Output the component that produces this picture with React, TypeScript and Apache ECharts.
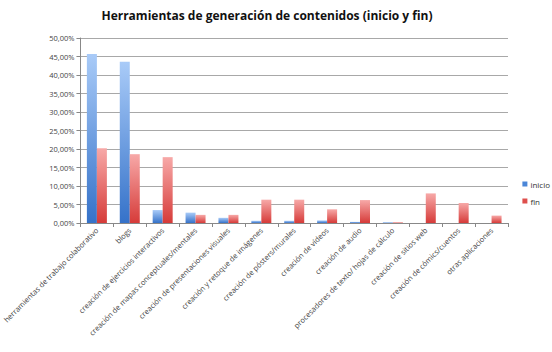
import React, { useEffect, useRef } from "react";
import * as echarts from "echarts";

const categories = [
  "herramientas de trabajo colaborativo",
  "blogs",
  "creación de ejercicios interactivos",
  "creación de mapas conceptuales/mentales",
  "creación de presentaciones visuales",
  "creación y retoque de imágenes",
  "creación de pósters/murales",
  "creación de vídeos",
  "creación de audio",
  "procesadores de texto/ hojas de cálculo",
  "creación de sitios web",
  "creación de cómics/cuentos",
  "otras aplicaciones",
];
const inicio = [45.7, 43.6, 3.5, 2.8, 1.4, 0.6, 0.6, 0.7, 0.3, 0.2, 0, 0, 0];
const fin = [20.2, 18.6, 17.8, 2.2, 2.2, 6.3, 6.3, 3.7, 6.2, 0.2, 8.0, 5.4, 2.0];
const yTicks = { min: 0, max: 50, interval: 5 };

export default function App() {
  const ref = useRef<HTMLDivElement>(null);
  useEffect(() => {
    const chart = echarts.init(ref.current!, null, { renderer: "svg" });
    const grad = (top: string, bottom: string) =>
      new echarts.graphic.LinearGradient(0, 0, 0, 1, [
        { offset: 0, color: top },
        { offset: 1, color: bottom },
      ]);
    chart.setOption({
      animation: false,
      backgroundColor: "#ffffff",
      title: {
        text: "Herramientas de generación de contenidos (inicio y fin)",
        left: 262,
        textAlign: "center",
        top: 4,
        textStyle: { fontFamily: "Open Sans", fontSize: 12, fontWeight: "bold", color: "#111" },
      },
      legend: {
        orient: "vertical",
        right: 2,
        top: 180,
        width: 32,
        padding: 0,
        itemWidth: 5,
        itemHeight: 5,
        itemGap: 9,
        icon: "rect",
        align: "left",
        textStyle: { fontFamily: "Open Sans", fontSize: 8, color: "#333", padding: [0, 0, 0, -2], width: 24, overflow: "none" },
        data: [
          { name: "inicio", itemStyle: { color: "#4a86d8" } },
          { name: "fin", itemStyle: { color: "#de4f4d" } },
        ],
      },
      grid: { left: 77, right: 44, top: 38, bottom: 129, containLabel: false },
      xAxis: {
        type: "category",
        data: categories,
        axisLine: { lineStyle: { color: "#888" } },
        axisTick: { show: true, alignWithLabel: false, length: 4, lineStyle: { color: "#888" } },
        axisLabel: {
          rotate: 45,
          interval: 0,
          fontFamily: "Open Sans",
          fontSize: 7.5,
          color: "#444",
          margin: 6,
        },
      },
      yAxis: {
        type: "value",
        min: yTicks.min,
        max: yTicks.max,
        interval: yTicks.interval,
        axisLine: { show: true, lineStyle: { color: "#888" } },
        axisTick: { show: true, length: 4, lineStyle: { color: "#888" } },
        splitLine: { lineStyle: { color: "#a8a8a8" } },
        axisLabel: {
          fontFamily: "Open Sans",
          fontSize: 7.5,
          color: "#444",
          margin: 6,
          formatter: (v: number) => v.toFixed(2).replace(".", ",") + "%",
        },
      },
      series: [
        {
          name: "inicio",
          type: "bar",
          data: inicio,
          barWidth: 10,
          barGap: "0%",
          itemStyle: { color: grad("#a9cbf8", "#3572c9") },
        },
        {
          name: "fin",
          type: "bar",
          data: fin,
          barWidth: 10,
          barGap: "0%",
          itemStyle: { color: grad("#f7a9a8", "#d63b39") },
        },
      ],
    });
    return () => chart.dispose();
  }, []);
  return <div ref={ref} style={{ position: "fixed", left: 0, top: 0, width: 552, height: 352 }} />;
}
